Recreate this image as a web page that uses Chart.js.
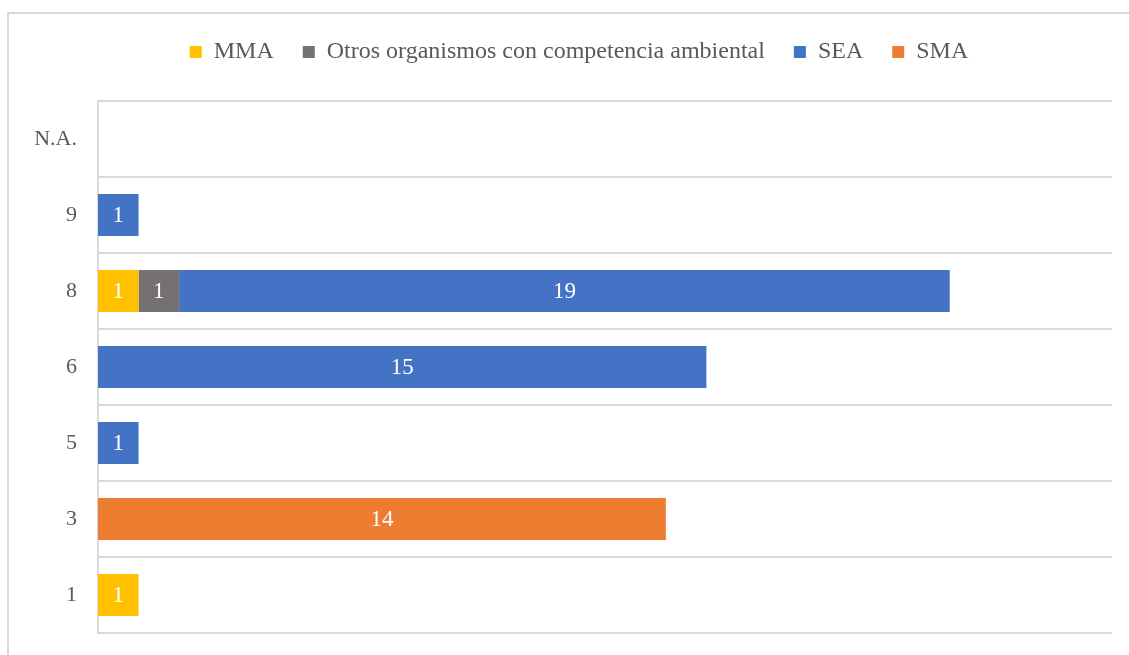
<!DOCTYPE html>
<html>
<head>
<meta charset="utf-8">
<script src="https://cdn.jsdelivr.net/npm/chart.js@4"></script>
<style>
  html, body { margin: 0; padding: 0; background: #fff; }
  #wrap { position: relative; width: 1129px; height: 655px; overflow: hidden; }
  #frame {
    position: absolute; left: 7px; top: 12px; width: 1200px; height: 700px;
    border: 2px solid #d9d9d9; box-sizing: border-box;
  }
  #chart { position: absolute; left: 0; top: 0; }
</style>
</head>
<body>
<div id="wrap">
  <div id="frame"></div>
  <canvas id="chart" width="1129" height="655"></canvas>
</div>
<script>
  const categories = ['N.A.', '9', '8', '6', '5', '3', '1'];
  const mma   = [null, null, 1, null, null, null, 1];
  const otros = [null, null, 1, null, null, null, null];
  const sea   = [null, 1, 19, 15, 1, null, null];
  const sma   = [null, null, null, null, null, 14, null];

  const serif = "'Liberation Serif', 'Times New Roman', serif";

  // writes the value in the middle of each bar segment
  const barLabels = {
    id: 'barLabels',
    afterDatasetsDraw(chart) {
      const ctx = chart.ctx;
      ctx.save();
      ctx.font = '23px ' + serif;
      ctx.fillStyle = '#ffffff';
      ctx.textAlign = 'center';
      ctx.textBaseline = 'middle';
      chart.data.datasets.forEach((ds, i) => {
        chart.getDatasetMeta(i).data.forEach((bar, j) => {
          const v = ds.data[j];
          if (!v) return;
          const p = bar.getCenterPoint();
          ctx.fillText(String(v), p.x, p.y + 1);
        });
      });
      ctx.restore();
    }
  };

  // more room under the legend, and legend nudged right over the plot
  const legendSpace = {
    id: 'legendSpace',
    beforeInit(chart) {
      const fit = chart.legend.fit;
      chart.legend.fit = function () {
        fit.bind(chart.legend)();
        this.height += 27;
      };
    },
    afterLayout(chart) {
      chart.legend.left += 23;
      chart.legend.right += 23;
    }
  };

  new Chart(document.getElementById('chart'), {
    type: 'bar',
    data: {
      labels: categories,
      datasets: [
        { label: 'MMA', data: mma, backgroundColor: '#FFC000' },
        { label: 'Otros organismos con competencia ambiental', data: otros, backgroundColor: '#767171' },
        { label: 'SEA', data: sea, backgroundColor: '#4472C4' },
        { label: 'SMA', data: sma, backgroundColor: '#ED7D31' }
      ]
    },
    options: {
      indexAxis: 'y',
      responsive: false,
      animation: false,
      categoryPercentage: 1,
      barPercentage: 0.55,
      layout: { padding: { left: 0, right: 17, top: 11, bottom: 22 } },
      plugins: {
        legend: {
          position: 'top',
          labels: {
            boxWidth: 12,
            boxHeight: 12,
            padding: 29,
            color: '#595959',
            font: { family: serif, size: 24 }
          }
        },
        tooltip: { enabled: false }
      },
      scales: {
        x: {
          stacked: true,
          display: false,
          min: 0,
          max: 25
        },
        y: {
          stacked: true,
          afterFit(scale) {
            // fixed axis width; the tick padding shouldn't push the plot in vertically
            scale.width = 98;
            scale.paddingTop = 0;
            scale.paddingBottom = 0;
          },
          grid: { color: '#d9d9d9', lineWidth: 2, drawTicks: false },
          border: { color: '#d9d9d9', width: 2 },
          ticks: {
            padding: 21,
            color: '#595959',
            font: { family: serif, size: 22 }
          }
        }
      }
    },
    plugins: [barLabels, legendSpace]
  });
</script>
</body>
</html>
